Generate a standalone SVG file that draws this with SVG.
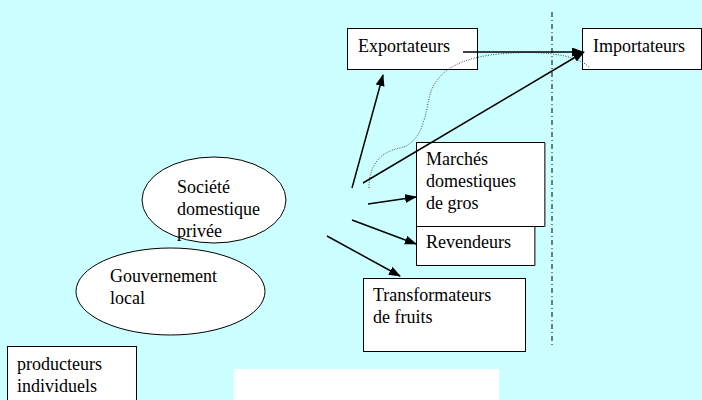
<svg xmlns="http://www.w3.org/2000/svg" width="702" height="400" viewBox="0 0 702 400">
<style>
.t{font-family:"Liberation Serif","Times New Roman",serif;font-size:18px;fill:#000}
.box{fill:#fff;stroke:#000;stroke-width:1}
.sh{fill:none;stroke:#777;stroke-width:1.5}
.ell{fill:#fff;stroke:#000;stroke-width:1}
.c{stroke:#000;stroke-width:1.5;fill:none}
</style>
<defs>
<marker id="ah" markerUnits="userSpaceOnUse" markerWidth="12" markerHeight="10" refX="11" refY="4.5" orient="auto">
<path d="M0,0 L12,4.5 L0,9 Z" fill="#000"/>
</marker>
</defs>
<rect width="702" height="400" fill="#ccffff"/>
<rect x="234" y="369" width="265" height="40" fill="#fff"/>
<line x1="552" y1="12" x2="552" y2="348" stroke="#000" stroke-width="1" stroke-dasharray="5,3,1,3"/>
<g id="exportateurs"><rect class="box" x="347.5" y="28.5" width="130" height="41"/><text class="t" x="358" y="52">Exportateurs</text></g>
<g id="importateurs"><rect class="box" x="582.5" y="28.5" width="119" height="41"/><text class="t" x="593" y="52">Importateurs</text></g>
<g id="marches"><rect class="box" x="416.5" y="142.5" width="128" height="84"/><line class="sh" x1="545" y1="143" x2="545" y2="227"/><text class="t" x="426" y="165">Marchés</text><text class="t" x="426" y="187">domestiques</text><text class="t" x="426" y="209">de gros</text></g>
<g id="revendeurs"><rect class="box" x="416.5" y="226.5" width="118" height="39"/><line class="sh" x1="535" y1="227" x2="535" y2="266"/><text class="t" x="426" y="248">Revendeurs</text></g>
<g id="transformateurs"><rect class="box" x="363.5" y="278.5" width="162" height="73"/><text class="t" x="373" y="301">Transformateurs</text><text class="t" x="373" y="323">de fruits</text></g>
<g id="societe"><ellipse class="ell" cx="214" cy="200" rx="72" ry="43"/><text class="t" x="177" y="193">Société</text><text class="t" x="177" y="215">domestique</text><text class="t" x="177" y="237">privée</text></g>
<g id="gouvernement"><ellipse class="ell" cx="170.5" cy="291.5" rx="94.5" ry="43.5"/><text class="t" x="110" y="282">Gouvernement</text><text class="t" x="110" y="304">local</text></g>
<g id="producteurs"><rect class="box" x="7.5" y="346.5" width="129" height="70"/><text class="t" x="17" y="370">producteurs</text><text class="t" x="17" y="392">individuels</text></g>
<g id="connectors">
<path d="M369,188 C369,165 380,152 400,148 C418,144 424,125 428,103 C432,80 445,62 490,55 C530,50 575,52 590,68" fill="none" stroke="#446" stroke-width="1" stroke-dasharray="1,1.5"/>
<line class="c" x1="463" y1="52" x2="583" y2="52" marker-end="url(#ah)"/>
<line class="c" x1="352" y1="188" x2="383" y2="75" marker-end="url(#ah)"/>
<line class="c" x1="363" y1="183" x2="584" y2="52" marker-end="url(#ah)"/>
<line class="c" x1="368" y1="204" x2="416" y2="197" marker-end="url(#ah)"/>
<line class="c" x1="352" y1="220" x2="416" y2="244" marker-end="url(#ah)"/>
<line class="c" x1="327" y1="236" x2="400" y2="276" marker-end="url(#ah)"/>
</g>
</svg>
